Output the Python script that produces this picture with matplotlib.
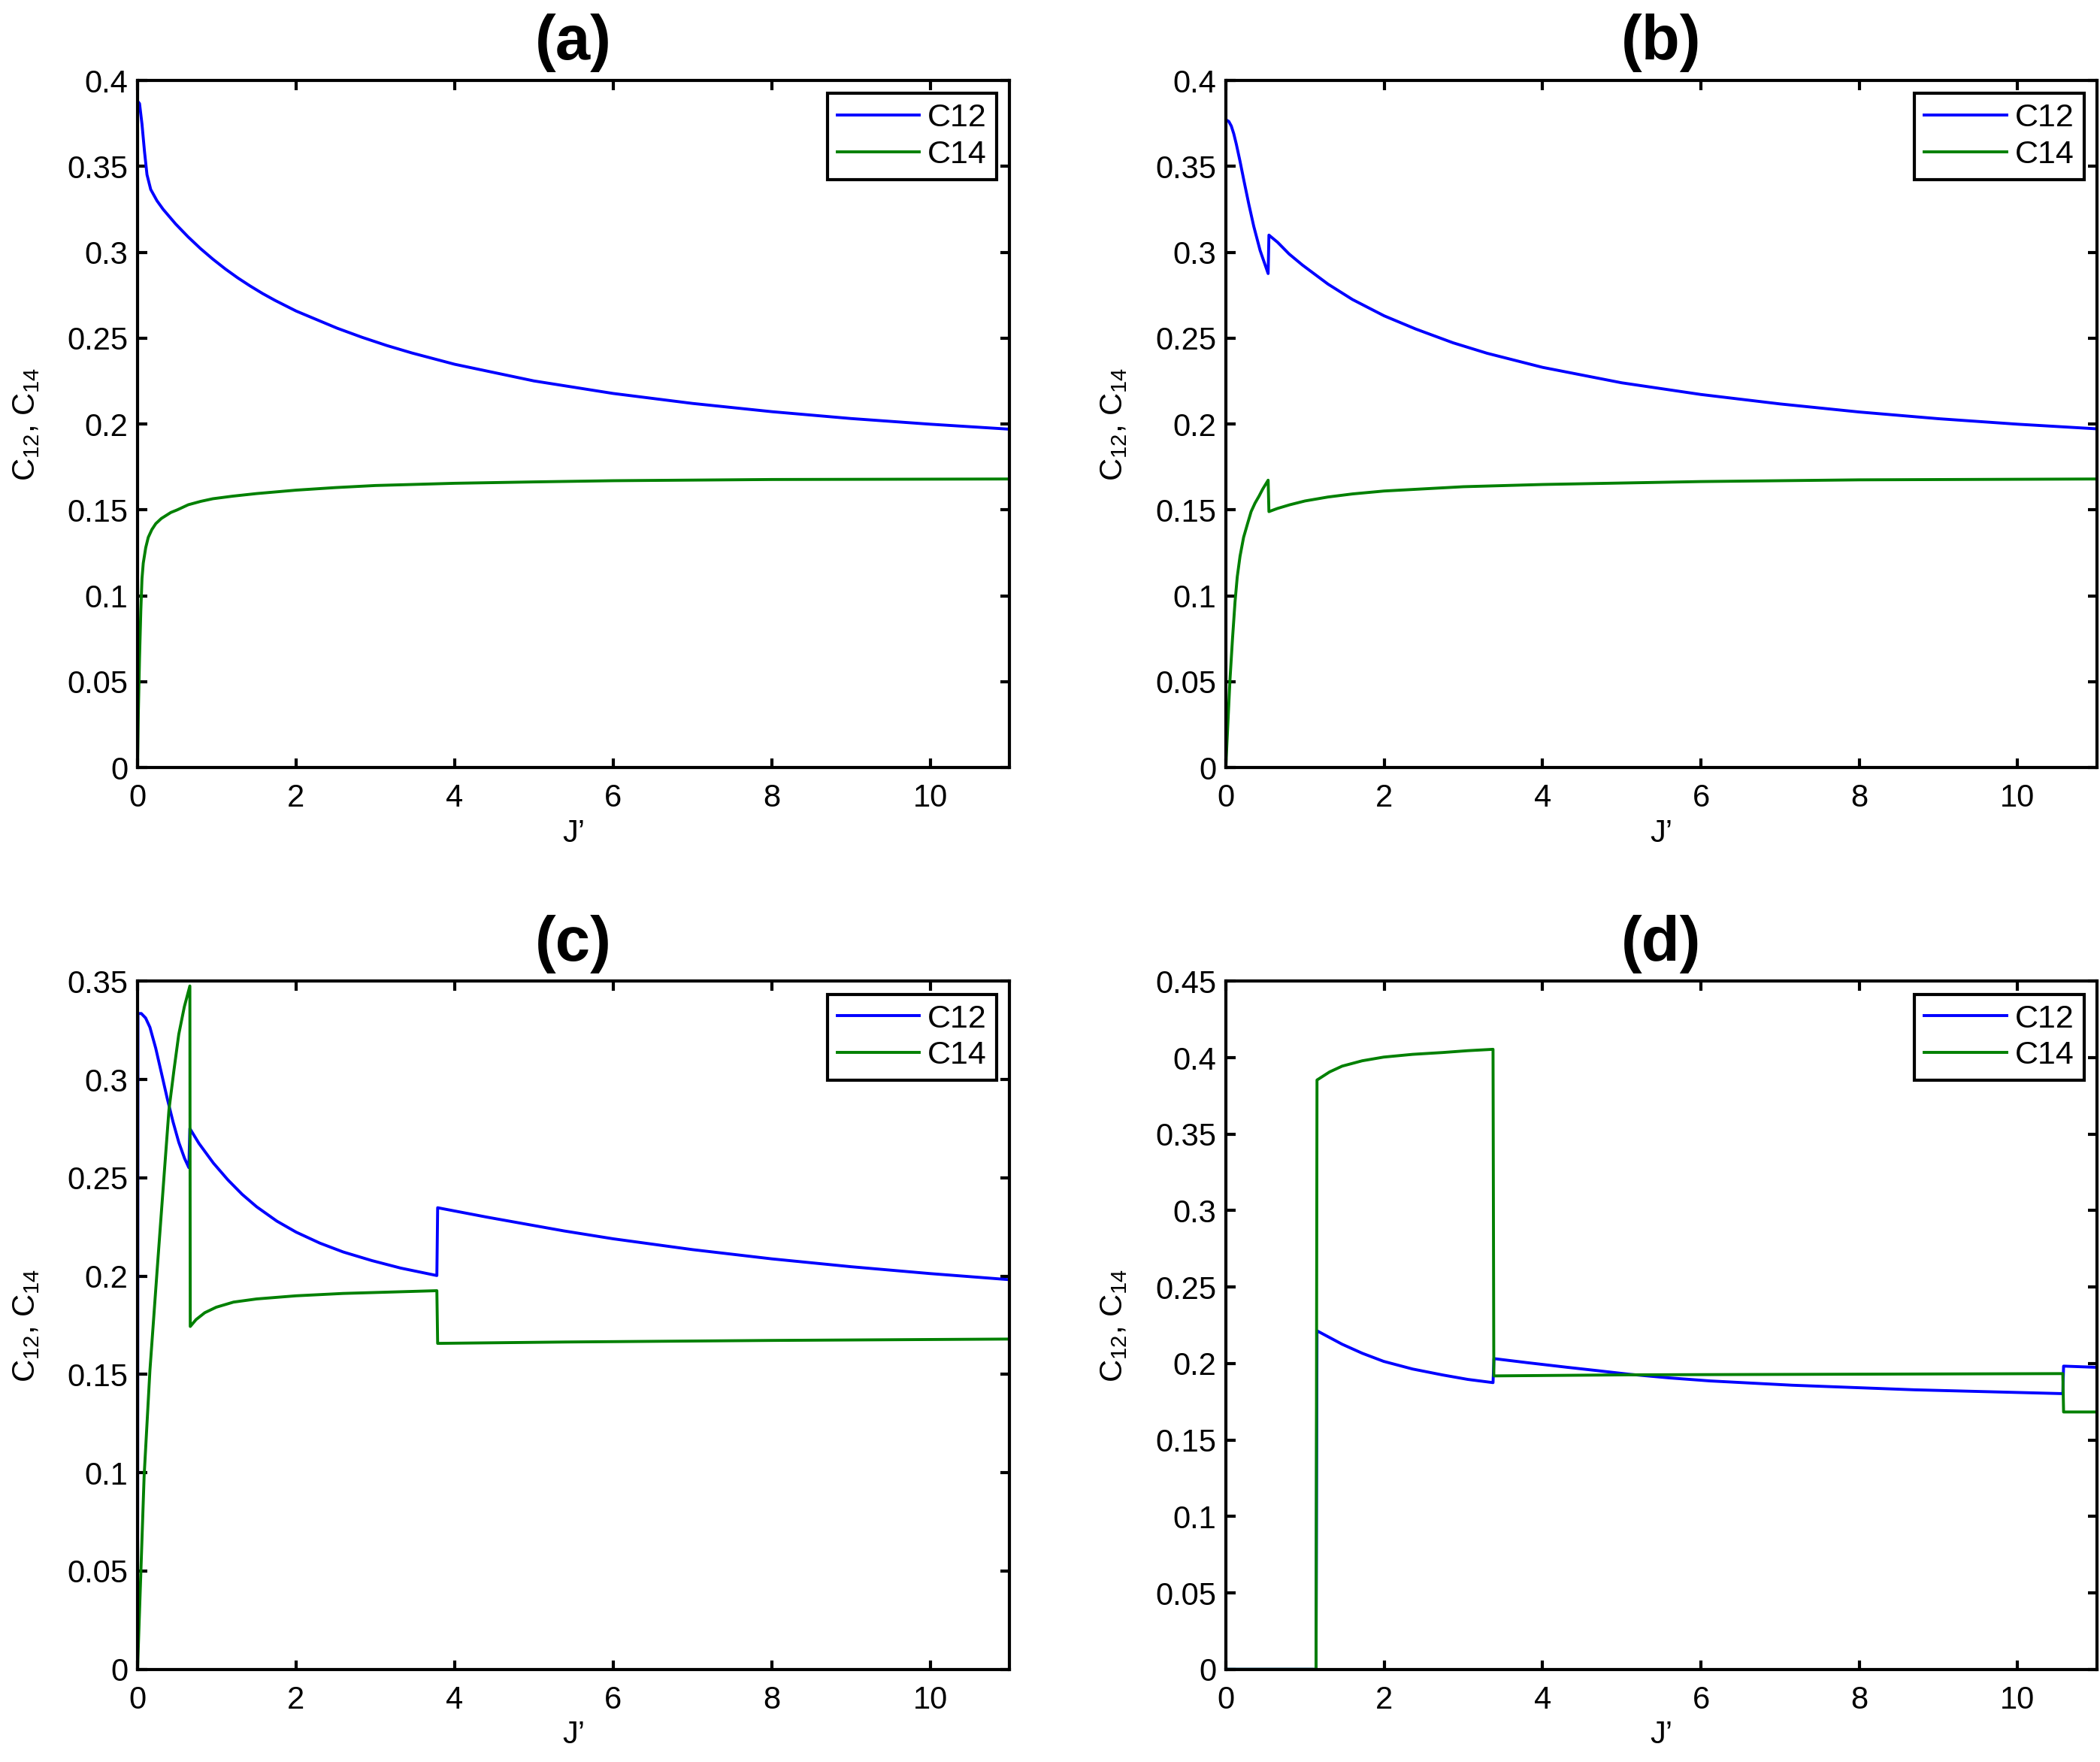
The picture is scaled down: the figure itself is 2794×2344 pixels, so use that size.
import matplotlib
matplotlib.use('Agg')
import matplotlib.pyplot as plt
from matplotlib.ticker import FuncFormatter, MultipleLocator

plt.rcParams['font.family'] = ['Liberation Sans', 'DejaVu Sans']
plt.rcParams['mathtext.default'] = 'regular'

# panel (a)
a_j12 = [0, 0.025, 0.056, 0.088, 0.119, 0.166, 0.245, 0.323, 0.48, 0.637, 0.793, 0.95, 1.107, 1.264, 1.42,
         1.577, 1.734, 2, 2.518, 2.832, 3.145, 3.459, 4, 5, 6, 7, 8, 9, 10, 11]
a_c12 = [0.388, 0.3866, 0.3746, 0.3585, 0.3452, 0.3366, 0.3300, 0.3250, 0.3165, 0.3090, 0.3022, 0.2960,
         0.2903, 0.2851, 0.2804, 0.2760, 0.2720, 0.2658, 0.2558, 0.2505, 0.2457, 0.2414, 0.2348, 0.2251,
         0.2178, 0.2120, 0.2072, 0.2032, 0.1999, 0.197]
a_j14 = [0, 0.01, 0.025, 0.041, 0.056, 0.072, 0.103, 0.135, 0.18, 0.23, 0.3, 0.42, 0.5, 0.64, 0.8, 0.95, 1.2,
         1.5, 2, 2.5, 3, 4, 5, 6, 8, 11]
a_c14 = [0, 0.032, 0.064, 0.091, 0.110, 0.119, 0.128, 0.134, 0.1385, 0.142, 0.145, 0.1485, 0.150, 0.153,
         0.155, 0.1565, 0.158, 0.1595, 0.1615, 0.163, 0.1642, 0.1655, 0.1663, 0.167, 0.1677, 0.168]

# panel (b)
b_j12 = [0, 0.038, 0.07, 0.101, 0.133, 0.18, 0.228, 0.291, 0.354, 0.434, 0.535, 0.545, 0.655, 0.8, 0.97,
         1.29, 1.6, 2, 2.4, 2.87, 3.3, 4, 5, 6, 7, 8, 9, 10, 11]
b_c12 = [0.3772, 0.3762, 0.3735, 0.3690, 0.3630, 0.3530, 0.3420, 0.3280, 0.3150, 0.3010, 0.2876, 0.3100,
         0.3058, 0.2990, 0.2925, 0.2815, 0.2725, 0.2630, 0.2553, 0.2473, 0.2412, 0.2330, 0.2240, 0.2172,
         0.2117, 0.2070, 0.2031, 0.1999, 0.1972]
b_j14 = [0, 0.053, 0.085, 0.117, 0.145, 0.18, 0.225, 0.275, 0.32, 0.37, 0.42, 0.465, 0.535, 0.545, 0.65,
         0.81, 1.0, 1.29, 1.6, 2, 3, 4, 6, 8, 11]
b_c14 = [0, 0.051, 0.075, 0.0965, 0.111, 0.123, 0.134, 0.142, 0.149, 0.154, 0.158, 0.162, 0.1673, 0.149,
         0.1508, 0.1530, 0.1552, 0.1575, 0.1593, 0.161, 0.1635, 0.1648, 0.1665, 0.1675, 0.168]

# panel (c)
c_j12 = [0, 0.005, 0.047, 0.102, 0.156, 0.229, 0.302, 0.375, 0.447, 0.52, 0.593, 0.647, 0.66, 0.775, 0.957,
         1.139, 1.32, 1.502, 1.757, 2, 2.3, 2.594, 2.957, 3.32, 3.776, 3.786, 4.41, 5.38, 6, 7, 8, 9, 10, 11]
c_c12 = [0, 0.3336, 0.3336, 0.3313, 0.3266, 0.316, 0.3032, 0.2903, 0.2786, 0.2681, 0.2599, 0.2552, 0.2751,
         0.2675, 0.2575, 0.2490, 0.2416, 0.2353, 0.2280, 0.2224, 0.2168, 0.2123, 0.2079, 0.2041, 0.2003,
         0.2348, 0.2300, 0.2230, 0.2190, 0.2135, 0.2088, 0.2048, 0.2013, 0.1982]
c_j14 = [0, 0.083, 0.156, 0.247, 0.338, 0.396, 0.46, 0.52, 0.59, 0.66, 0.665, 0.738, 0.848, 0.993, 1.211,
         1.502, 2, 2.594, 3.776, 3.786, 5.4, 8, 11]
c_c14 = [0, 0.0983, 0.152, 0.203, 0.253, 0.2845, 0.305, 0.323, 0.337, 0.3476, 0.1744, 0.1779, 0.1814,
         0.1842, 0.1868, 0.1884, 0.190, 0.1912, 0.1926, 0.1658, 0.1665, 0.1673, 0.168]

# panel (d)
d_j12 = [0, 1.14, 1.152, 1.311, 1.47, 1.724, 1.994, 2.359, 2.74, 3.057, 3.375, 3.387, 3.8, 4.316, 4.7, 5.09,
         5.6, 6.12, 7.155, 8.7, 10.57, 10.58, 11]
d_c12 = [0, 0, 0.2214, 0.217, 0.2126, 0.2067, 0.2014, 0.1964, 0.1925, 0.1896, 0.1875, 0.2032, 0.2006,
         0.1975, 0.1953, 0.1930, 0.1906, 0.1886, 0.1858, 0.1828, 0.1803, 0.1983, 0.1975]
d_j14 = [0, 1.14, 1.152, 1.311, 1.47, 1.724, 1.994, 2.359, 2.74, 3.057, 3.375, 3.385, 5.09, 10.57, 10.58, 11]
d_c14 = [0, 0, 0.3854, 0.3907, 0.3945, 0.398, 0.4004, 0.4022, 0.4034, 0.4046, 0.4055, 0.1919, 0.1926,
         0.1934, 0.1683, 0.1683]

panels = [
    ('(a)', [0.0655, 0.5644, 0.4152, 0.3899], a_j12, a_c12, a_j14, a_c14, 0.4),
    ('(b)', [0.5837, 0.5644, 0.4148, 0.3899], b_j12, b_c12, b_j14, b_c14, 0.4),
    ('(c)', [0.0655, 0.0526, 0.4152, 0.3905], c_j12, c_c12, c_j14, c_c14, 0.35),
    ('(d)', [0.5837, 0.0526, 0.4148, 0.3905], d_j12, d_c12, d_j14, d_c14, 0.45),
]

fig = plt.figure(figsize=(27.94, 23.44), dpi=100)

for title, rect, j12, c12, j14, c14, ytop in panels:
    ax = fig.add_axes(rect)
    ax.plot(j12, c12, color=(0, 0, 1), linewidth=2.8, label='C12')
    ax.plot(j14, c14, color=(0, 0.5, 0), linewidth=2.8, label='C14')
    ax.set_xlim(0, 11)
    ax.set_ylim(0, ytop)
    ax.xaxis.set_major_locator(MultipleLocator(2))
    ax.yaxis.set_major_locator(MultipleLocator(0.05))
    ax.yaxis.set_major_formatter(FuncFormatter(lambda v, p: '%g' % round(v, 3)))
    ax.tick_params(direction='in', length=9, width=3, labelsize=30, top=True, right=True)
    ax.tick_params(axis='x', pad=15)
    ax.tick_params(axis='y', pad=9)
    for s in ax.spines.values():
        s.set_linewidth(3)
    ax.set_title(title, fontsize=60, fontweight='bold', pad=20)
    ax.set_xlabel('J’', fontsize=30, labelpad=5)
    ax.set_ylabel('C$_{12}$, C$_{14}$', fontsize=30, labelpad=25)
    leg = ax.legend(loc='upper right', fontsize=31, fancybox=False, edgecolor='black',
                    framealpha=1, handlelength=2.55, handletextpad=0.25, borderaxespad=0.4,
                    borderpad=0.3, labelspacing=0.2)
    leg.get_frame().set_linewidth(3)

fig.savefig('out.png', dpi=100)
